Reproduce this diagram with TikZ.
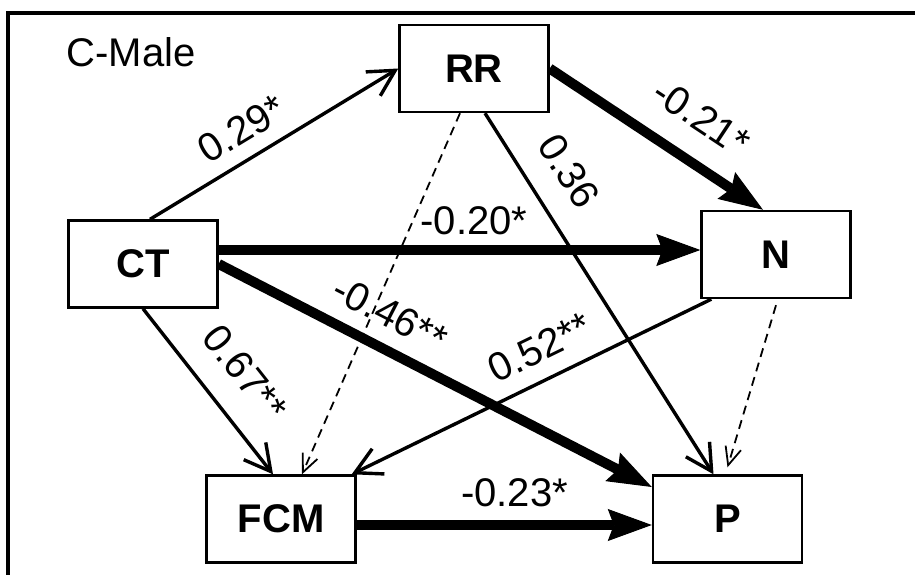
\documentclass[tikz,border=0pt]{standalone}
\usepackage{fontspec}
\setmainfont{Liberation Sans}
\usetikzlibrary{arrows.meta,calc}

\begin{document}
\begin{tikzpicture}[x=1pt,y=-1pt,
  box/.style={draw, line width=2.4pt, minimum width=149pt, minimum height=87pt,
    inner sep=0pt, font=\fontsize{40}{40}\selectfont\bfseries},
  lab/.style={font=\fontsize{40}{40}\selectfont, inner sep=0pt, sloped},
  thinarr/.style={line width=3.4pt, -{Straight Barb[length=26pt,width=28pt]}},
  thickarr/.style={line width=10pt, -{Stealth[length=44pt,width=32pt,inset=6pt,line width=1pt]}},
  dasharr/.style={line width=1.8pt, dash pattern=on 9pt off 6pt,
    -{Straight Barb[length=18pt,width=16pt]}}]

\useasboundingbox (0,0) rectangle (915,575);
\fill[white] (0,0) rectangle (915,575);

% outer frame (only left and top edges fall inside the page)
\draw[line width=3.4pt] (8,585) -- (8,13) -- (925,13);

\node[font=\fontsize{40}{40}\selectfont, inner sep=0pt] (title) at (131,52) {C-Male};

% variables
\node[box] (RR)  at (474,68.5)  {RR};
\node[box] (CT)  at (143,264)   {CT};
\node[box] (N)   at (776,254.5) {N};
\node[box] (FCM) at (281,519)   {FCM};
\node[box] (P)   at (727.5,519) {P};

% paths
\draw[thinarr] ([xshift=7pt]CT.north) -- node[lab,pos=0.43,above=14pt] {0.29*} (RR.west);
\draw[thickarr] (RR.east) -- node[lab,pos=0.60,above=24pt] {-0.21*} ([xshift=-13pt]N.north);
\draw[thickarr] ([yshift=14pt]CT.east) -- node[lab,pos=0.53,above=10pt] {-0.20*} ([yshift=4.5pt]N.west);
\draw[thinarr] ([xshift=11pt]RR.south) -- node[lab,pos=0.22,above=24pt] {0.36} ([xshift=-14pt]P.north);
\draw[dasharr] ([xshift=-14pt]RR.south) -- ([xshift=21pt]FCM.north);
\draw[dasharr] ([yshift=-6pt]N.south) -- ([yshift=7pt]P.north);
\draw[thinarr] (CT.south) -- node[lab,pos=0.54,above=25pt] {0.67**} ([xshift=-8pt]FCM.north);
\draw[thickarr] (CT.east) -- node[lab,pos=0.36,above=15pt] {-0.46**} ([yshift=32pt]P.west);
\draw[thinarr] ([xshift=11pt]N.south west) -- node[lab,pos=0.44,above=16pt] {0.52**} ([xshift=-5pt]FCM.north east);
\draw[thickarr] ([yshift=-6pt]FCM.east) -- node[lab,pos=0.535,above=13pt] {-0.23*} ([yshift=-6pt]P.west);

\end{tikzpicture}
\end{document}
